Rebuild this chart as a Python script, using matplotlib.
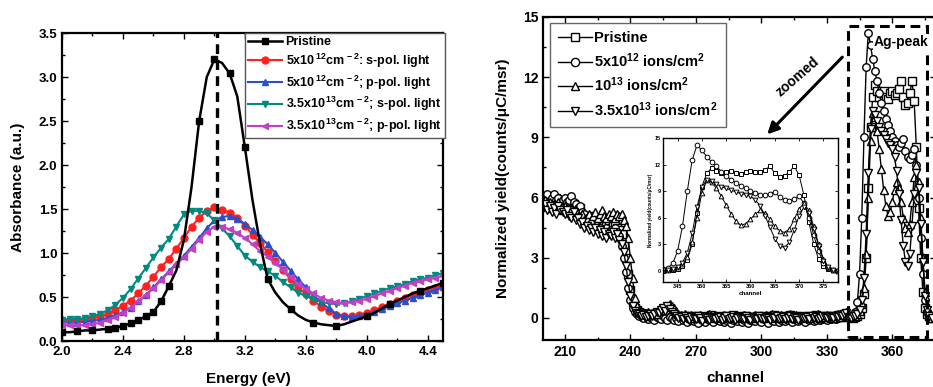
import numpy as np
import matplotlib
matplotlib.use("Agg")
import matplotlib.pyplot as plt
from matplotlib.patches import Rectangle
from matplotlib.ticker import MultipleLocator

plt.rcParams.update({
    "font.family": ["Liberation Sans", "DejaVu Sans"],
    "font.weight": "bold",
    "axes.labelweight": "bold",
    "mathtext.fontset": "custom",
    "mathtext.rm": "Liberation Sans:bold",
    "mathtext.bf": "Liberation Sans:bold",
    "mathtext.it": "Liberation Sans:bold",
    "mathtext.sf": "Liberation Sans:bold",
    "mathtext.default": "bf",
    "lines.scale_dashes": False,
})

# ---------------- Left panel data: absorbance vs energy ----------------
energy = np.arange(51) * 0.05 + 2.0   # 2.00 ... 4.50 eV

abs_pristine = [0.10, 0.10, 0.11, 0.12, 0.12, 0.13, 0.14, 0.15, 0.17, 0.20,
                0.24, 0.28, 0.33, 0.45, 0.62, 0.80, 1.15, 1.75, 2.50, 3.00,
                3.20, 3.16, 3.04, 2.78, 2.20, 1.60, 1.10, 0.70, 0.55, 0.44,
                0.36, 0.29, 0.24, 0.21, 0.19, 0.18, 0.17, 0.19, 0.22, 0.25,
                0.28, 0.32, 0.37, 0.42, 0.46, 0.50, 0.54, 0.57, 0.60, 0.63,
                0.66]
abs_5e12_s = [0.24, 0.24, 0.24, 0.25, 0.26, 0.28, 0.31, 0.35, 0.40, 0.46,
              0.54, 0.63, 0.73, 0.84, 0.93, 1.05, 1.17, 1.30, 1.40, 1.48,
              1.52, 1.49, 1.46, 1.40, 1.31, 1.21, 1.11, 1.01, 0.91, 0.81,
              0.70, 0.61, 0.53, 0.46, 0.39, 0.34, 0.30, 0.28, 0.28, 0.30,
              0.32, 0.35, 0.39, 0.42, 0.46, 0.49, 0.52, 0.55, 0.58, 0.60,
              0.63]
abs_5e12_p = [0.21, 0.21, 0.21, 0.22, 0.23, 0.24, 0.26, 0.29, 0.33, 0.38,
              0.45, 0.52, 0.61, 0.70, 0.79, 0.88, 0.97, 1.07, 1.17, 1.28,
              1.37, 1.41, 1.42, 1.39, 1.33, 1.26, 1.18, 1.10, 1.00, 0.90,
              0.80, 0.70, 0.61, 0.52, 0.44, 0.37, 0.31, 0.28, 0.27, 0.28,
              0.30, 0.33, 0.36, 0.40, 0.43, 0.46, 0.49, 0.52, 0.55, 0.58,
              0.61]
abs_35e13_s = [0.24, 0.25, 0.25, 0.26, 0.28, 0.31, 0.35, 0.41, 0.49, 0.59,
               0.71, 0.83, 0.95, 1.06, 1.16, 1.30, 1.44, 1.48, 1.48, 1.45,
               1.37, 1.28, 1.19, 1.08, 0.97, 0.90, 0.84, 0.79, 0.74, 0.67,
               0.61, 0.55, 0.51, 0.48, 0.44, 0.43, 0.42, 0.43, 0.45, 0.48,
               0.51, 0.54, 0.57, 0.60, 0.62, 0.65, 0.68, 0.70, 0.72, 0.75,
               0.77]
abs_35e13_p = [0.18, 0.18, 0.18, 0.18, 0.19, 0.21, 0.24, 0.27, 0.32, 0.38,
               0.45, 0.52, 0.60, 0.69, 0.78, 0.87, 0.95, 1.05, 1.15, 1.24,
               1.30, 1.30, 1.27, 1.23, 1.17, 1.10, 1.02, 0.96, 0.89, 0.81,
               0.73, 0.65, 0.59, 0.54, 0.49, 0.46, 0.44, 0.43, 0.44, 0.46,
               0.48, 0.51, 0.54, 0.57, 0.60, 0.63, 0.66, 0.68, 0.70, 0.72,
               0.74]
peak_energy = 3.02

left_labels = ["Pristine",
               "5x10$^{\\,12}$cm$^{\\,-2}$: s-pol. light",
               "5x10$^{\\,12}$cm$^{\\,-2}$; p-pol. light",
               "3.5x10$^{\\,13}$cm$^{\\,-2}$; s-pol. light",
               "3.5x10$^{\\,13}$cm$^{\\,-2}$; p-pol. light"]

# ---------------- Right panel data: RBS spectra ----------------
channel = np.arange(200, 379)

rbs_pristine = [
    5.9, 5.8, 5.6, 5.9, 5.7, 5.8, 6.0, 5.7, 5.6, 5.8,
    5.7, 5.9, 5.6, 5.5, 5.7, 5.4, 5.3, 5.5, 5.1, 5.0,
    4.9, 5.1, 4.8, 5.0, 4.9, 4.7, 4.8, 5.0, 4.7, 4.6,
    4.7, 4.5, 4.6, 4.7, 4.5, 4.4, 4.2, 3.7, 3.0, 2.2,
    1.4, 0.8, 0.5, 0.4, 0.3, 0.25, 0.2, 0.15, 0.2, 0.1,
    0.15, 0.05, 0.1, 0.2, 0.1, 0.0, 0.15, 0.1, 0.2, 0.05,
    0.1, 0.0, 0.1, 0.05, -0.05, 0.1, 0.0, 0.05, 0.1, -0.1,
    0.05, 0.1, 0.0, -0.1, 0.05, 0.1, 0.0, 0.15, 0.05, 0.0,
    0.1, 0.0, 0.05, -0.05, 0.1, 0.0, 0.05, 0.15, 0.0, 0.05,
    0.1, -0.05, 0.0, 0.1, 0.05, -0.1, 0.05, 0.0, 0.1, 0.05,
    0.0, 0.1, -0.05, 0.05, 0.1, 0.0, 0.15, 0.05, 0.0, 0.1,
    0.05, 0.0, 0.1, 0.15, 0.0, 0.05, 0.1, -0.05, 0.05, 0.1,
    0.0, 0.05, 0.1, 0.0, 0.05, 0.15, 0.0, 0.1, 0.05, 0.0,
    0.1, 0.05, 0.0, 0.1, 0.05, 0.15, 0.1, 0.05, 0.2, 0.1,
    0.1, 0.05, 0.0, 0.05, 0.1, 0.2, 0.5, 1.2, 3.0, 6.5,
    9.5, 11.0, 11.6, 11.3, 11.0, 11.2, 11.3, 11.0, 10.9, 11.2,
    11.3, 11.1, 11.2, 11.4, 11.8, 11.0, 10.6, 10.7, 11.2, 11.8,
    10.8, 8.5, 5.5, 3.0, 1.3, 0.5, 0.2, 0.1, 0.0]
rbs_5e12 = [
    6.1, 5.9, 6.2, 5.8, 6.0, 6.2, 5.9, 6.0, 5.7, 5.9,
    6.0, 5.8, 5.9, 6.1, 5.8, 5.7, 5.5, 5.6, 5.3, 5.2,
    5.0, 4.8, 4.6, 4.5, 4.7, 4.4, 4.5, 4.3, 4.4, 4.5,
    4.3, 4.4, 4.2, 4.5, 4.3, 4.1, 3.6, 3.0, 2.3, 1.5,
    0.9, 0.5, 0.3, 0.2, 0.1, 0.15, 0.0, 0.1, -0.05, 0.05,
    0.0, -0.1, 0.05, 0.0, -0.05, 0.1, 0.0, -0.1, 0.05, 0.0,
    -0.1, 0.0, -0.15, 0.05, -0.1, 0.0, -0.2, -0.05, 0.0, -0.15,
    -0.1, -0.25, 0.0, -0.1, -0.2, 0.0, -0.1, -0.05, -0.2, 0.0,
    -0.1, -0.15, 0.0, -0.2, -0.1, -0.05, -0.25, -0.1, 0.0, -0.15,
    -0.05, -0.2, -0.1, 0.0, -0.25, -0.1, -0.05, -0.15, 0.0, -0.1,
    -0.2, -0.05, -0.1, -0.25, 0.0, -0.1, -0.15, -0.05, -0.2, -0.1,
    0.0, -0.15, -0.1, -0.05, -0.2, 0.0, -0.1, -0.15, -0.05, -0.1,
    -0.2, 0.0, -0.1, -0.05, -0.15, -0.1, 0.0, -0.1, -0.05, 0.0,
    -0.1, 0.0, -0.05, 0.05, -0.05, 0.0, 0.1, 0.05, 0.15, 0.1,
    0.1, 0.1, 0.15, 0.3, 0.8, 2.2, 5.0, 9.0, 12.5, 14.2,
    13.6, 12.9, 12.3, 11.8, 11.2, 10.7, 10.3, 9.9, 9.6, 9.3,
    9.0, 8.8, 8.6, 8.5, 8.7, 8.9, 8.3, 8.0, 7.9, 8.1,
    8.4, 7.6, 6.0, 4.0, 2.2, 0.9, 0.3, 0.1, 0.0]
rbs_1e13 = [
    5.7, 5.9, 5.6, 5.8, 5.5, 5.7, 5.6, 5.8, 5.5, 5.4,
    5.6, 5.5, 5.3, 5.5, 5.2, 5.4, 5.1, 5.0, 5.2, 4.9,
    5.0, 5.2, 4.9, 5.1, 5.3, 5.0, 5.2, 5.4, 5.1, 5.0,
    5.2, 5.1, 5.3, 5.0, 5.2, 5.1, 5.2, 4.9, 4.6, 4.0,
    3.0, 2.0, 1.0, 0.6, 0.4, 0.3, 0.2, 0.25, 0.3, 0.2,
    0.25, 0.3, 0.2, 0.35, 0.4, 0.5, 0.6, 0.55, 0.7, 0.6,
    0.5, 0.35, 0.2, 0.15, 0.1, 0.2, 0.05, 0.1, 0.15, 0.0,
    0.1, 0.05, 0.15, 0.0, 0.1, 0.05, 0.2, 0.1, 0.0, 0.15,
    0.05, 0.1, 0.0, 0.15, 0.05, 0.1, 0.0, 0.05, 0.15, 0.0,
    0.1, 0.05, 0.15, 0.0, 0.1, 0.05, 0.0, 0.15, 0.1, 0.05,
    0.1, 0.0, 0.15, 0.05, 0.1, 0.2, 0.0, 0.1, 0.05, 0.15,
    0.0, 0.1, 0.05, 0.2, 0.1, 0.0, 0.15, 0.05, 0.1, 0.0,
    0.1, 0.05, 0.0, 0.15, 0.1, 0.05, 0.2, 0.0, 0.1, 0.05,
    0.15, 0.05, 0.1, 0.0, 0.1, 0.2, 0.05, 0.15, 0.25, 0.3,
    0.05, 0.1, 0.05, 0.1, 0.2, 0.35, 0.7, 1.5, 3.2, 6.0,
    8.8, 10.2, 10.0, 9.3, 8.4, 7.4, 6.4, 5.6, 5.1, 5.3,
    5.8, 6.4, 6.8, 6.5, 5.8, 5.0, 4.5, 4.3, 4.7, 5.8,
    7.0, 7.6, 6.8, 5.0, 3.0, 1.3, 0.4, 0.1, 0.0]
rbs_35e13 = [
    5.5, 5.7, 5.4, 5.6, 5.3, 5.5, 5.2, 5.6, 5.4, 5.3,
    5.2, 5.4, 5.1, 5.0, 5.3, 4.9, 5.0, 4.7, 4.8, 4.5,
    4.6, 4.4, 4.5, 4.3, 4.5, 4.2, 4.4, 4.1, 4.3, 4.0,
    4.2, 4.1, 4.3, 4.0, 4.2, 3.9, 3.7, 3.3, 2.6, 1.8,
    1.1, 0.6, 0.35, 0.25, 0.2, 0.1, 0.15, 0.05, 0.1, 0.2,
    0.1, 0.2, 0.3, 0.25, 0.4, 0.5, 0.35, 0.6, 0.45, 0.3,
    0.2, 0.1, 0.0, 0.05, -0.05, 0.1, 0.0, -0.1, 0.05, 0.0,
    -0.05, 0.1, 0.0, -0.15, 0.05, 0.0, -0.1, 0.05, 0.0, -0.05,
    0.0, 0.05, -0.1, 0.0, 0.1, -0.05, 0.0, 0.05, -0.1, 0.0,
    0.05, 0.0, -0.05, 0.1, 0.0, -0.1, 0.05, 0.0, -0.05, 0.1,
    0.0, -0.05, 0.05, 0.0, -0.1, 0.05, 0.0, 0.1, -0.05, 0.0,
    0.05, -0.05, 0.0, 0.1, -0.05, 0.05, 0.0, -0.1, 0.05, 0.0,
    0.0, 0.05, -0.05, 0.1, 0.0, 0.05, -0.05, 0.0, 0.1, 0.05,
    0.0, 0.1, 0.05, 0.0, 0.1, 0.05, 0.15, 0.1, 0.2, 0.25,
    0.05, 0.0, 0.1, 0.1, 0.2, 0.4, 0.9, 2.0, 4.2, 7.2,
    9.4, 10.3, 10.1, 9.8, 9.5, 9.3, 9.1, 8.9, 8.7, 8.6,
    8.4, 8.0, 7.3, 6.2, 4.9, 3.6, 2.8, 2.6, 3.2, 4.6,
    6.2, 7.2, 6.5, 4.7, 2.8, 1.1, 0.4, 0.1, 0.0]

right_labels = ["Pristine",
                "5x10$^{12}$ ions/cm$^{2}$",
                "10$^{13}$ ions/cm$^{2}$",
                "3.5x10$^{13}$ ions/cm$^{2}$"]

# ---------------- Figure ----------------
W, H = 933, 387
fig = plt.figure(figsize=(W / 100, H / 100), dpi=100)


def style_axes(ax, lw=1.5, size=9.5, major=4, minor=2):
    for s in ax.spines.values():
        s.set_linewidth(lw)
    ax.tick_params(which="both", direction="in", top=True, right=True,
                   width=1.0, labelsize=size)
    ax.tick_params(which="major", length=major)
    ax.tick_params(which="minor", length=minor)


# Left panel
ax1 = fig.add_axes([62 / W, (H - 341) / H, (443 - 62) / W, (341 - 33) / H])
colors = ["black", "#ff2020", "#2a4fc8", "#008a80", "#c040c8"]
markers = ["s", "o", "^", "v", "<"]
series = [abs_pristine, abs_5e12_s, abs_5e12_p, abs_35e13_s, abs_35e13_p]
handles = []
black_marks = [0, 2, 4, 6, 7, 8, 9, 10, 11, 12, 13, 14, 18, 20, 22, 24, 27,
               30, 33, 36, 40, 43, 47, 50]
for i, (vals, c, m, lab) in enumerate(zip(series, colors, markers, left_labels)):
    if i == 0:
        continue
    h, = ax1.plot(energy, vals, color=c, marker=m, ms=5.0, lw=1.5,
                  mec=c, mfc=c, label=lab, zorder=2 + i * 0.1)
    handles.append(h)
h0, = ax1.plot(energy, abs_pristine, color="black", marker="s", ms=5.0, lw=1.8,
               markevery=black_marks, label=left_labels[0], zorder=3)
handles.insert(0, h0)
ax1.axvline(peak_energy, color="black", lw=2.4, dashes=(7, 4.5), zorder=4)
ax1.set_xlim(2.0, 4.5)
ax1.set_ylim(0.0, 3.5)
ax1.xaxis.set_major_locator(MultipleLocator(0.4))
ax1.xaxis.set_minor_locator(MultipleLocator(0.2))
ax1.yaxis.set_major_locator(MultipleLocator(0.5))
ax1.yaxis.set_minor_locator(MultipleLocator(0.25))
ax1.xaxis.set_major_formatter(plt.FuncFormatter(lambda v, p: f"{v:.1f}"))
ax1.yaxis.set_major_formatter(plt.FuncFormatter(lambda v, p: f"{v:.1f}"))
style_axes(ax1, lw=1.6)
ax1.set_xlabel("Energy (eV)", fontsize=11)
ax1.set_ylabel("Absorbance (a.u.)", fontsize=11)
ax1.xaxis.set_label_coords(0.49, -0.1)
ax1.yaxis.set_label_coords(-0.097, 0.5)
leg1 = fig.legend(handles=handles, labels=left_labels, loc="upper left",
                  bbox_to_anchor=(245 / W, 1 - 33 / H), fontsize=9,
                  handlelength=2.7, handletextpad=0.3, labelspacing=0.28,
                  borderpad=0.25, borderaxespad=0, frameon=True,
                  fancybox=False, framealpha=1, edgecolor="#555555")
leg1.get_frame().set_linewidth(1.0)

# Right panel
ax2 = fig.add_axes([543 / W, (H - 340) / H, 393 / W, (340 - 17) / H])
rbs_series = [rbs_pristine, rbs_5e12, rbs_1e13, rbs_35e13]
rbs_markers = ["s", "o", "^", "v"]
rhandles = []
for vals, m, lab in zip(rbs_series, rbs_markers, right_labels):
    h, = ax2.plot(channel, vals, color="black", lw=1.0, marker=m, ms=5.4,
                  mfc="white", mec="black", mew=1.0, label=lab)
    rhandles.append(h)
ax2.set_xlim(200, 380)
ax2.set_ylim(-1.1, 15)
ax2.xaxis.set_major_locator(MultipleLocator(30))
ax2.xaxis.set_minor_locator(MultipleLocator(15))
ax2.yaxis.set_major_locator(MultipleLocator(3))
ax2.yaxis.set_minor_locator(MultipleLocator(1.5))
style_axes(ax2, lw=1.6, size=10)
ax2.set_xlabel("channel", fontsize=11)
ax2.set_ylabel("Normalized yield(counts/\u03bcC/msr)", fontsize=11)
ax2.xaxis.set_label_coords(0.49, -0.097)
ax2.yaxis.set_label_coords(-0.085, 0.5)

ax2.add_patch(Rectangle((339.5, -0.95), 36.6, 15.5, fill=False, lw=2.2,
                        ec="black", ls=(0, (7, 4)), zorder=5, clip_on=False))
ax2.text(351.6, 13.75, "Ag-peak", fontsize=10, ha="left", va="center",
         zorder=6, bbox=dict(fc="white", ec="none", pad=0.6))
ax2.annotate("", xy=(302.7, 9.15), xytext=(337.1, 13.0),
             arrowprops=dict(arrowstyle="-|>", lw=2.2, color="black",
                             mutation_scale=17, shrinkA=0, shrinkB=0),
             zorder=6)
ax2.text(316.8, 12.0, "zoomed", rotation=41, fontsize=10, ha="center",
         va="center", zorder=6)
leg2 = fig.legend(handles=rhandles, labels=right_labels, loc="upper left",
                  bbox_to_anchor=(550 / W, 1 - 23 / H), fontsize=10.5,
                  handlelength=2.3, handletextpad=0.2, labelspacing=0.42,
                  borderpad=0.55, borderaxespad=0, frameon=True,
                  fancybox=False, framealpha=1, edgecolor="#666666",
                  markerscale=1.1)
leg2.get_frame().set_linewidth(1.0)

# Inset
ax3 = fig.add_axes([663 / W, (H - 282) / H, 175 / W, 144 / H], zorder=7)
for vals, m in zip(rbs_series, rbs_markers):
    ax3.plot(channel, vals, color="black", lw=0.7, marker=m, ms=3.4,
             mfc="white", mec="black", mew=0.7)
ax3.set_xlim(342, 378)
ax3.set_ylim(-1.3, 15)
ax3.xaxis.set_major_locator(MultipleLocator(5))
ax3.yaxis.set_major_locator(MultipleLocator(3))
for s in ax3.spines.values():
    s.set_linewidth(1.0)
ax3.tick_params(which="both", direction="in", top=True, right=True,
                width=0.6, length=2.5, labelsize=4, pad=1.5)
ax3.set_xlabel("channel", fontsize=4.5, labelpad=1.5)
ax3.set_ylabel("Normalized yield(counts/\u03bcC/msr)", fontsize=3.3, labelpad=1.5)

fig.savefig("out.png", dpi=100)
